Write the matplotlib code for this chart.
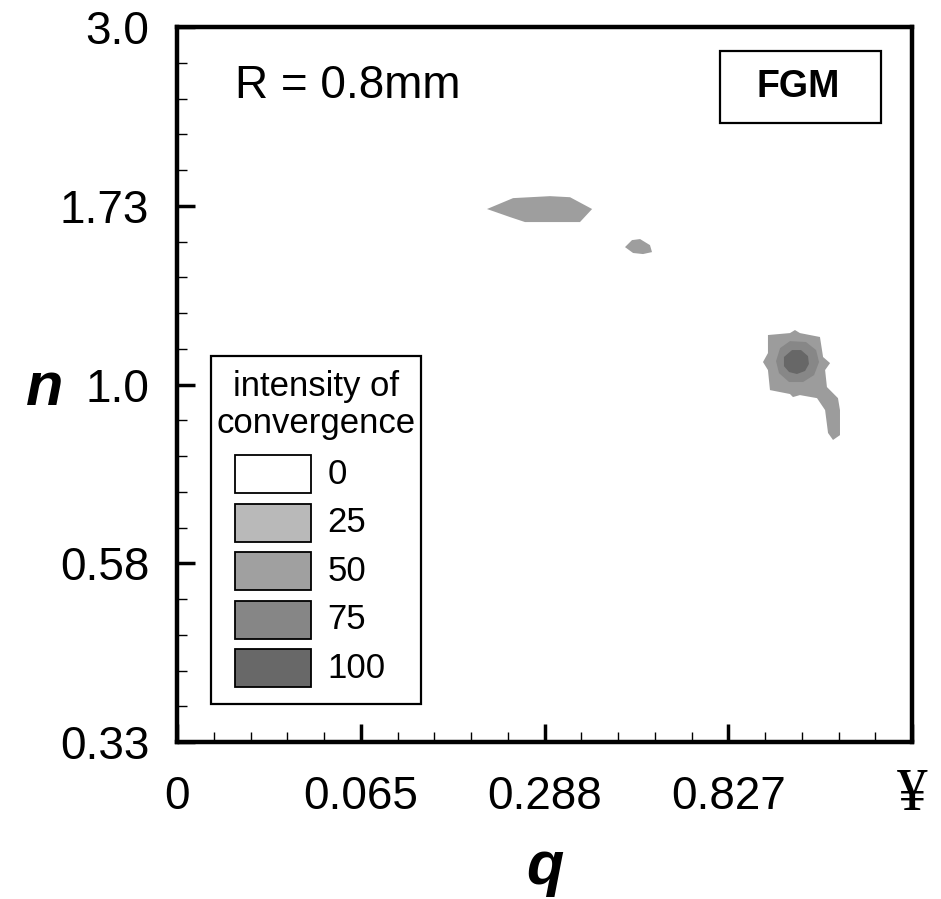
import matplotlib
matplotlib.use("Agg")
import matplotlib.pyplot as plt
from matplotlib.patches import Rectangle
import numpy as np

plt.rcParams['font.family'] = ['Liberation Sans', 'DejaVu Sans']

# axis scale: tick positions are evenly spaced, labels are the real values
x_labels = ['0', '0.065', '0.288', '0.827', '\u00a5']
y_labels = ['0.33', '0.58', '1.0', '1.73', '3.0']

# legend levels and grey shades
levels = ['0', '25', '50', '75', '100']
level_colors = ['#ffffff', '#b9b9b9', '#a0a0a0', '#868686', '#686868']

# contour regions (tick-index coordinates)
blob_a_x = [1.687, 1.829, 2.030, 2.139, 2.259, 2.193, 1.894, 1.812]
blob_a_y = [2.982, 3.043, 3.054, 3.048, 2.982, 2.909, 2.909, 2.937]

blob_b_x = [2.438, 2.476, 2.520, 2.574, 2.585, 2.536, 2.482]
blob_b_y = [2.769, 2.808, 2.814, 2.780, 2.741, 2.730, 2.736]

peak_50_x = [3.216, 3.336, 3.363, 3.390, 3.499, 3.516, 3.554, 3.527, 3.537, 3.597,
             3.608, 3.608, 3.570, 3.543, 3.527, 3.483, 3.390, 3.352, 3.336, 3.227,
             3.216, 3.189, 3.216]
peak_50_y = [2.277, 2.288, 2.305, 2.288, 2.266, 2.154, 2.120, 2.081, 1.986, 1.924,
             1.857, 1.717, 1.690, 1.729, 1.857, 1.924, 1.941, 1.930, 1.947, 1.969,
             2.081, 2.126, 2.176]

peak_75_x = [3.336, 3.423, 3.478, 3.494, 3.467, 3.407, 3.331, 3.276, 3.260, 3.282]
peak_75_y = [2.243, 2.238, 2.193, 2.126, 2.053, 2.014, 2.014, 2.064, 2.131, 2.204]

peak_100_x = [3.347, 3.396, 3.434, 3.439, 3.418, 3.374, 3.331, 3.303, 3.303]
peak_100_y = [2.193, 2.193, 2.159, 2.115, 2.076, 2.059, 2.070, 2.103, 2.154]

regions = [
    (blob_a_x, blob_a_y, '#9e9e9e'),
    (blob_b_x, blob_b_y, '#9e9e9e'),
    (peak_50_x, peak_50_y, '#9c9c9c'),
    (peak_75_x, peak_75_y, '#878787'),
    (peak_100_x, peak_100_y, '#676767'),
]

fig = plt.figure(figsize=(9.41, 8.99), dpi=100)
ax = fig.add_axes([0.1881, 0.1746, 0.7811, 0.7953])

for xs, ys, c in regions:
    ax.fill(xs, ys, color=c, lw=0, zorder=2)

ax.set_xlim(0, 4)
ax.set_ylim(0, 4)
ax.set_xticks(np.arange(5))
ax.set_yticks(np.arange(5))
ax.set_xticks(np.arange(0, 4.01, 0.2), minor=True)
ax.set_yticks(np.arange(0, 4.01, 0.2), minor=True)
# the infinity sign is drawn separately (serif, larger)
ax.set_xticklabels(x_labels[:-1] + [''])
ax.set_yticklabels(y_labels)

for s in ax.spines.values():
    s.set_linewidth(3.2)

ax.tick_params(which='major', direction='in', length=13, width=2.5,
               labelsize=33, top=False, right=False)
ax.tick_params(which='minor', direction='in', length=7, width=1.0,
               top=False, right=False)
ax.tick_params(axis='y', which='major', pad=20)
ax.tick_params(axis='x', which='major', pad=24)

ax.annotate(x_labels[-1], xy=(4, 0), xycoords='data', xytext=(0, -18),
            textcoords='offset points', ha='center', va='top',
            fontsize=44, fontfamily='Liberation Serif', annotation_clip=False)

ax.text(0.5, -0.198, 'q', transform=ax.transAxes, fontsize=44,
        fontweight='bold', fontstyle='italic', ha='center', va='baseline')
ax.text(-0.180, 0.471, 'n', transform=ax.transAxes, fontsize=44,
        fontweight='bold', fontstyle='italic', ha='center', va='baseline')

# annotations
ax.text(0.079, 0.917, 'R = 0.8mm', transform=ax.transAxes, fontsize=33,
        ha='left', va='center')
ax.add_patch(Rectangle((0.739, 0.866), 0.219, 0.100, transform=ax.transAxes,
                       fill=False, lw=1.6, ec='black', zorder=5))
ax.text(0.845, 0.916, 'FGM', transform=ax.transAxes, fontsize=27,
        fontweight='bold', ha='center', va='center', zorder=6)

# legend
ax.add_patch(Rectangle((0.046, 0.053), 0.286, 0.487, transform=ax.transAxes,
                       facecolor='white', ec='black', lw=1.6, zorder=5))
ax.text(0.189, 0.497, 'intensity of', transform=ax.transAxes, fontsize=25,
        ha='center', va='center', zorder=6)
ax.text(0.189, 0.446, 'convergence', transform=ax.transAxes, fontsize=25,
        ha='center', va='center', zorder=6)
sw_bottom = 0.348
for i, (lab, c) in enumerate(zip(levels, level_colors)):
    yb = sw_bottom - i * 0.0678
    ax.add_patch(Rectangle((0.079, yb), 0.103, 0.053, transform=ax.transAxes,
                           facecolor=c, ec='black', lw=1.3, zorder=6))
    ax.text(0.205, yb + 0.0265, lab, transform=ax.transAxes, fontsize=25,
            ha='left', va='center', zorder=6)

fig.savefig('out.png', dpi=100)
